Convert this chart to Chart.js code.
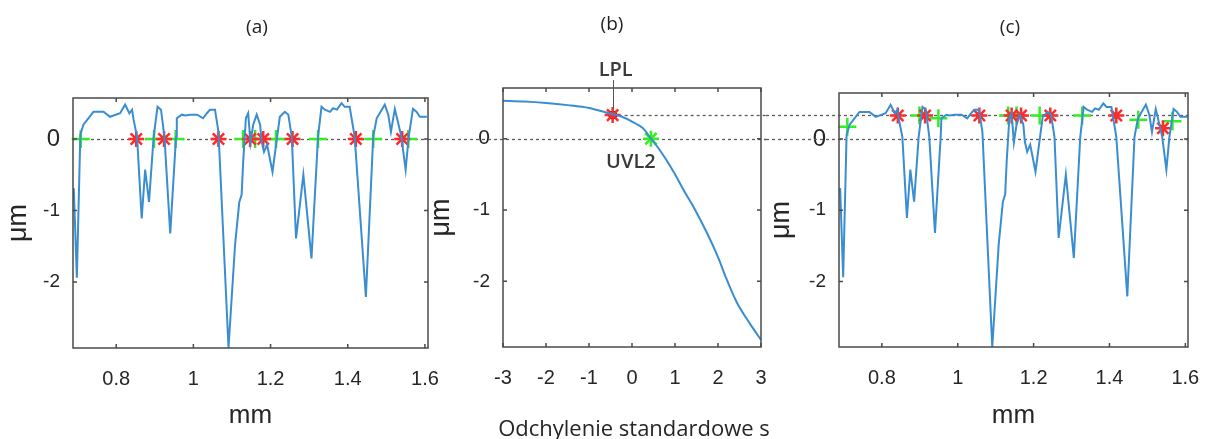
<!DOCTYPE html>
<html>
<head>
<meta charset="utf-8">
<script src="https://cdn.jsdelivr.net/npm/chart.js@4.4.1/dist/chart.umd.min.js"></script>
<style>
  html, body { margin: 0; background: #fff; }
  #wrap { position: relative; width: 1210px; height: 439px; overflow: hidden; }
  .panel { position: absolute; top: 0; height: 439px; }
</style>
</head>
<body>
<div id="wrap">
  <div class="panel" style="left:0;width:446px"><canvas id="chartA"></canvas></div>
  <div class="panel" style="left:428px;width:362px"><canvas id="chartB"></canvas></div>
  <div class="panel" style="left:766px;width:444px"><canvas id="chartC"></canvas></div>
</div>
<script>
// surface profile (mm, µm) - same profile in (a) and (c)
const profileX = [0.690, 0.698, 0.707, 0.715, 0.741, 0.767, 0.784, 0.810, 0.823, 0.834,
                  0.841, 0.845, 0.854, 0.866, 0.875, 0.885, 0.897, 0.907, 0.916, 0.925,
                  0.940, 0.955, 0.957, 0.970, 0.979, 0.991, 1.010, 1.025, 1.035, 1.043,
                  1.056, 1.065, 1.091, 1.108, 1.119, 1.125, 1.129, 1.136, 1.142, 1.148,
                  1.155, 1.164, 1.173, 1.177, 1.183, 1.191, 1.205, 1.217, 1.224, 1.237,
                  1.246, 1.255, 1.266, 1.285, 1.306, 1.323, 1.332, 1.341, 1.354, 1.362,
                  1.372, 1.384, 1.392, 1.405, 1.418, 1.447, 1.466, 1.475, 1.496, 1.505,
                  1.512, 1.522, 1.530, 1.539, 1.550, 1.558, 1.569, 1.578, 1.587, 1.605];
const profileY = [-0.69, -1.94, 0.06, 0.20, 0.38, 0.38, 0.31, 0.36, 0.48, 0.36,
                  0.41, 0.27, 0.03, -1.11, -0.43, -0.88, 0.03, 0.45, 0.41, 0.03,
                  -1.32, 0.03, 0.29, 0.34, 0.33, 0.34, 0.34, 0.29, 0.36, 0.41,
                  0.41, 0.10, -2.92, -1.48, -0.88, -0.78, -0.32, 0.29, 0.36, -0.05,
                  0.20, 0.34, 0.20, -0.04, -0.18, -0.08, -0.46, 0.03, 0.31, 0.38,
                  0.34, 0.03, -1.39, -0.50, -1.67, 0.03, 0.45, 0.41, 0.38, 0.43,
                  0.41, 0.50, 0.45, 0.45, 0.03, -2.21, 0.03, 0.29, 0.48, 0.34,
                  0.10, 0.42, 0.24, 0.03, -0.43, 0.03, 0.42, 0.38, 0.31, 0.31];

// (a) crossings of the zero line
const redAX   = [0.852, 0.924, 1.065, 1.147, 1.181, 1.257, 1.421, 1.541];
const greenAX = [0.708, 0.898, 0.954, 1.129, 1.160, 1.214, 1.323, 1.466, 1.557];

// (b) material ratio curve vs. standard deviation
const sigmaX = [-3, -2.5, -2, -1.5, -1, -0.5, -0.25, 0, 0.25, 0.44, 0.6,
                0.8, 1.0, 1.2, 1.45, 1.75, 2.0, 2.2, 2.45, 2.75, 3.0];
const sigmaY = [0.53, 0.52, 0.50, 0.47, 0.43, 0.35, 0.31, 0.24, 0.15, 0.0, -0.12,
                -0.30, -0.50, -0.72, -0.98, -1.33, -1.66, -1.97, -2.31, -2.60, -2.82];
const lplS = -0.45, lplLevel = 0.33;
const uvl2S = 0.44, uvl2Level = 0;

// (c) crossings of the LPL line
const redCX   = [0.842, 0.914, 1.057, 1.142, 1.167, 1.244, 1.418, 1.541];
const redCY   = [0.33, 0.33, 0.33, 0.33, 0.33, 0.33, 0.33, 0.15];
const greenCX = [0.709, 0.899, 0.949, 1.133, 1.155, 1.216, 1.328, 1.476, 1.566];
const greenCY = [0.17, 0.33, 0.29, 0.33, 0.33, 0.33, 0.33, 0.27, 0.25];

const mmTicks = [0.8, 1.0, 1.2, 1.4, 1.6];
const mmLabels = ['0.8', '1', '1.2', '1.4', '1.6'];
const sTicks = [-3, -2, -1, 0, 1, 2, 3];
const sLabels = ['-3', '-2', '-1', '0', '1', '2', '3'];
const umTicks = [0, -1, -2];
const umLabels = ['0', '-1', '-2'];

const BLUE = '#3a8dd0';
const RED = '#ff2a2a';
const GREEN = '#33ee22';
const INK = '#262626';
const ARIAL = '"Liberation Sans", Arial, sans-serif';
const SANS = '"Open Sans", "Noto Sans", sans-serif';

const pts = (xs, ys) => xs.map((x, i) => ({ x, y: Array.isArray(ys) ? ys[i] : ys }));

// dashed reference lines, may run out of the plot box
const refLines = {
  id: 'refLines',
  beforeDatasetsDraw(chart, args, opts) {
    const { ctx, chartArea: a, scales: { x, y } } = chart;
    ctx.save();
    ctx.setLineDash([3, 3]);
    ctx.lineWidth = 1.3;
    ctx.strokeStyle = '#5c5c5c';
    (opts.lines || []).forEach(l => {
      const py = Math.round(y.getPixelForValue(l.value)) + 0.5;
      let x0 = 0;
      if (l.from === 'area') x0 = a.left;
      else if (typeof l.from === 'number') x0 = x.getPixelForValue(l.from);
      const x1 = a.right + (l.past || 0);
      ctx.beginPath();
      ctx.moveTo(x0, py);
      ctx.lineTo(x1, py);
      ctx.stroke();
    });
    ctx.restore();
  }
};

// matlab style box with inner tick marks + panel texts
const frame = {
  id: 'frame',
  afterDraw(chart, args, opts) {
    const { ctx, chartArea: a, scales: { x, y } } = chart;
    ctx.save();
    ctx.strokeStyle = '#4a4a4a';
    ctx.lineWidth = 1.5;
    ctx.beginPath();
    x.ticks.forEach(t => {
      const px = x.getPixelForValue(t.value);
      ctx.moveTo(px, a.bottom); ctx.lineTo(px, a.bottom - 4);
      ctx.moveTo(px, a.top); ctx.lineTo(px, a.top + 4);
    });
    y.ticks.forEach(t => {
      const py = y.getPixelForValue(t.value);
      ctx.moveTo(a.left, py); ctx.lineTo(a.left + 4, py);
      ctx.moveTo(a.right, py); ctx.lineTo(a.right - 4, py);
    });
    ctx.stroke();
    ctx.strokeRect(a.left, a.top, a.width, a.height);

    ctx.fillStyle = '#222';
    ctx.font = '19px ' + SANS;
    ctx.textAlign = 'center';
    ctx.textBaseline = 'middle';
    ctx.fillText(opts.title, opts.titleX, opts.titleY);

    if (opts.xTitle) {
      // wider than the plot box, so not drawn as the scale title (that one gets squeezed)
      ctx.fillStyle = INK;
      ctx.font = '22px ' + SANS;
      ctx.fillText(opts.xTitle, (a.left + a.right) / 2 + 2, 430);
    }

    if (opts.notes) {
      const lx = x.getPixelForValue(lplS), ly = y.getPixelForValue(lplLevel);
      const ux = x.getPixelForValue(uvl2S), uy = y.getPixelForValue(uvl2Level);
      ctx.strokeStyle = '#555';
      ctx.lineWidth = 1;
      ctx.beginPath();
      ctx.moveTo(Math.round(lx) + 0.5, ly - 6);
      ctx.lineTo(Math.round(lx) + 0.5, ly - 35);
      ctx.stroke();
      ctx.fillStyle = '#3a3a3a';
      ctx.font = '600 20px ' + SANS;
      ctx.fillText('LPL', lx + 3, ly - 45);
      ctx.fillText('UVL2', ux - 20, uy + 24);
    }
    ctx.restore();
  }
};

function noEdgePadding(s) {
  s.paddingLeft = 0;
  s.paddingRight = 0;
  s.paddingTop = 0;
  s.paddingBottom = 0;
}

function xAxis(min, max, ticks, labels, title, titleFont, titlePad, height) {
  return {
    type: 'linear', min, max,
    grid: { display: false, drawTicks: false },
    border: { display: false },
    afterBuildTicks: s => { s.ticks = ticks.map(v => ({ value: v })); },
    afterFit: s => { s.height = height; noEdgePadding(s); },
    ticks: {
      padding: 19, maxRotation: 0, autoSkip: false, color: INK,
      font: { family: ARIAL, size: 20 },
      callback: (v, i) => labels[i]
    },
    title: { display: !!title, text: title, color: INK, font: titleFont, padding: { top: 0, bottom: titlePad } }
  };
}

function yAxis(min, max, width, titlePad, zeroSize) {
  return {
    type: 'linear', min, max,
    grid: { display: false, drawTicks: false },
    border: { display: false },
    afterBuildTicks: s => { s.ticks = umTicks.map(v => ({ value: v })); },
    afterFit: s => { s.width = width; noEdgePadding(s); },
    ticks: {
      padding: 13, color: INK,
      font: c => ({ family: ARIAL, size: c.tick && c.tick.value === 0 ? zeroSize : 19 }),
      callback: (v, i) => umLabels[i]
    },
    title: {
      display: true, text: 'μm', color: INK,
      font: { family: ARIAL, size: 27, lineHeight: 1 },
      padding: { top: titlePad, bottom: 0 }
    }
  };
}

function baseOptions(top, right, scales, plugins) {
  return {
    responsive: true,
    maintainAspectRatio: false,
    animation: false,
    devicePixelRatio: 1,
    events: [],
    layout: { autoPadding: false, padding: { top, right, left: 0, bottom: 0 } },
    scales,
    plugins: Object.assign({ legend: { display: false }, tooltip: { enabled: false } }, plugins)
  };
}

const mmTitleFont = { family: ARIAL, size: 26, lineHeight: 1 };

const profileSet = {
  data: pts(profileX, profileY), showLine: true, borderColor: BLUE,
  borderWidth: 2, pointRadius: 0, tension: 0
};
const starSet = data => ({
  data, pointStyle: 'star', pointRadius: 8, borderColor: RED, backgroundColor: RED,
  borderWidth: 2.5, clip: false
});
const plusSet = data => ({
  data, pointStyle: 'cross', pointRadius: 9, borderColor: GREEN, borderWidth: 2.5, clip: false
});

new Chart(document.getElementById('chartA'), {
  type: 'scatter',
  data: {
    datasets: [
      Object.assign({}, profileSet),
      starSet(pts(redAX, 0)),
      plusSet(pts(greenAX, 0))
    ]
  },
  options: baseOptions(98, 18, {
    x: xAxis(0.688, 1.608, mmTicks, mmLabels, 'mm', mmTitleFont, 10, 91),
    y: yAxis(-2.923, 0.573, 73, 5.5, 24)
  }, {
    refLines: { lines: [{ value: 0, from: 'area' }] },
    frame: { title: '(a)', titleX: 257, titleY: 28 }
  }),
  plugins: [refLines, frame]
});

new Chart(document.getElementById('chartB'), {
  type: 'scatter',
  data: {
    datasets: [
      { data: pts(sigmaX, sigmaY), showLine: true, borderColor: BLUE, borderWidth: 2, pointRadius: 0, tension: 0.3 },
      { data: [{ x: lplS, y: lplLevel }], pointStyle: 'star', pointRadius: 8, borderColor: RED, borderWidth: 2.5, clip: false },
      { data: [{ x: lplS, y: lplLevel }], pointStyle: 'circle', pointRadius: 4, backgroundColor: '#000', borderColor: '#000', clip: false },
      { data: [{ x: uvl2S, y: uvl2Level }], pointStyle: 'star', pointRadius: 8, borderColor: GREEN, borderWidth: 2.5, clip: false }
    ]
  },
  options: baseOptions(88, 29, {
    x: xAxis(-3, 3, sTicks, sLabels, '', null, 0, 92),
    y: yAxis(-2.92, 0.71, 75, 0.5, 21)
  }, {
    refLines: { lines: [{ value: 0, from: 'canvas', past: 5 }, { value: lplLevel, from: lplS, past: 5 }] },
    frame: { title: '(b)', titleX: 184, titleY: 25, notes: true, xTitle: 'Odchylenie standardowe s' }
  }),
  plugins: [refLines, frame]
});

new Chart(document.getElementById('chartC'), {
  type: 'scatter',
  data: {
    datasets: [
      Object.assign({}, profileSet, { data: pts(profileX, profileY) }),
      starSet(pts(redCX, redCY)),
      plusSet(pts(greenCX, greenCY))
    ]
  },
  options: baseOptions(93, 22, {
    x: xAxis(0.687, 1.607, mmTicks, mmLabels, 'mm', mmTitleFont, 10, 92),
    y: yAxis(-2.92, 0.645, 73, 2.5, 24)
  }, {
    refLines: { lines: [{ value: 0, from: 'canvas' }, { value: lplLevel, from: 'canvas' }] },
    frame: { title: '(c)', titleX: 244, titleY: 28 }
  }),
  plugins: [refLines, frame]
});
</script>
</body>
</html>
